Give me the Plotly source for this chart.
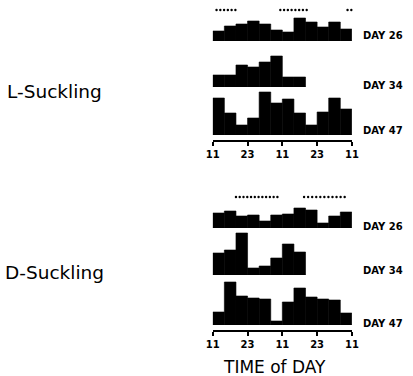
import plotly.graph_objects as go

W, H = 413, 376

# Hourly activity histograms (4-h bins) starting at 11:00
hours_12 = [2, 6, 10, 14, 18, 22, 26, 30, 34, 38, 42, 46]
hours_8 = hours_12[:8]

l_day26 = [10, 15, 17, 20, 17, 11, 9, 23, 19, 14, 19, 12]
l_day34 = [12, 12, 22, 20, 25, 31, 10, 10]
l_day47 = [37, 22, 10, 17, 43, 32, 36, 22, 10, 23, 37, 26]

d_day26 = [15, 17, 12, 13, 7, 13, 14, 20, 18, 5, 12, 16]
d_day34 = [22, 25, 42, 7, 9, 17, 31, 23]
d_day47 = [13, 43, 29, 27, 26, 4, 23, 37, 28, 26, 25, 12]

# dotted markers above the day-26 records (hours after 11:00)
l_dots = [1.3, 2.6, 3.9, 5.2, 6.5, 7.8,
          23.3, 24.6, 25.9, 27.2, 28.5, 29.8, 31.1, 32.4,
          46.5, 47.8]
d_dots = [8.0, 9.3, 10.6, 11.9, 13.2, 14.5, 15.8, 17.1, 18.4, 19.7, 21.0, 22.3,
          31.5, 32.9, 34.3, 35.7, 37.1, 38.5, 39.9, 41.3, 42.7, 44.1, 45.5]
dot_level = 31

tick_vals = [0, 12, 24, 36, 48]
tick_text = ["11", "23", "11", "23", "11"]

groups = ["L-Suckling", "D-Suckling"]
day_labels = ["DAY 26", "DAY 34", "DAY 47"]


def fy(px):
    return 1 - px / H


def fx(px):
    return px / W


# panel layout: (top px, baseline px)
panels = [
    (l_day26, hours_12, 6, 41),
    (l_day34, hours_8, 52, 87),
    (l_day47, hours_12, 90, 135),
    (d_day26, hours_12, 193, 228),
    (d_day34, hours_8, 230, 275),
    (d_day47, hours_12, 280, 325),
]
label_y = [35, 85, 131, 226, 270, 323]

X0, X1 = 213, 357

fig = go.Figure()
layout = dict(
    width=W, height=H, margin=dict(l=0, r=0, t=0, b=0),
    paper_bgcolor="white", plot_bgcolor="rgba(0,0,0,0)",
    showlegend=False,
)

for i, (vals, xs, top, base) in enumerate(panels, start=1):
    xa = "x" if i == 1 else f"x{i}"
    ya = "y" if i == 1 else f"y{i}"
    fig.add_trace(go.Bar(
        x=xs, y=vals, width=4, xaxis=xa, yaxis=ya,
        marker=dict(color="black", line=dict(color="black", width=0.6)),
        hoverinfo="skip",
    ))
    layout["xaxis" if i == 1 else f"xaxis{i}"] = dict(
        domain=[fx(X0), fx(X1)], range=[0, 48], anchor=ya,
        visible=False, fixedrange=True,
    )
    layout["yaxis" if i == 1 else f"yaxis{i}"] = dict(
        domain=[fy(base), fy(top)], range=[0, base - top], anchor=xa,
        visible=False, fixedrange=True,
    )

# dot rows above day 26
fig.add_trace(go.Scatter(
    x=l_dots, y=[dot_level] * len(l_dots), mode="markers", xaxis="x", yaxis="y",
    marker=dict(color="black", size=2.4), hoverinfo="skip", cliponaxis=False,
))
fig.add_trace(go.Scatter(
    x=d_dots, y=[dot_level] * len(d_dots), mode="markers", xaxis="x4", yaxis="y4",
    marker=dict(color="black", size=2.4), hoverinfo="skip", cliponaxis=False,
))

# time axes under each group
for name, axis_px, ref in [("xaxis7", 141, "x3"), ("xaxis8", 331, "x6")]:
    layout[name] = dict(
        domain=[fx(X0), fx(X1)], range=[0, 48], anchor="free",
        position=fy(axis_px), showline=True, linecolor="black", linewidth=2,
        ticks="outside", ticklen=4, tickwidth=2, tickcolor="black",
        tickvals=tick_vals, ticktext=tick_text, showgrid=False, zeroline=False,
        tickfont=dict(family="DejaVu Sans", size=10, color="black", weight="bold"),
        fixedrange=True,
    )
    fig.add_trace(go.Scatter(x=[0, 48], y=[None, None], xaxis=name.replace("axis", ""),
                             yaxis="y3" if ref == "x3" else "y6", hoverinfo="skip"))

layout["annotations"] = []
for ly, txt in zip(label_y, day_labels * 2):
    layout["annotations"].append(dict(
        x=fx(366), y=fy(ly), xref="paper", yref="paper", xanchor="left",
        yanchor="middle", text=txt, showarrow=False,
        font=dict(family="DejaVu Sans", size=10, color="black", weight="bold"),
    ))
for lx, ly, txt in zip([-2, -4], [92, 272], groups):
    layout["annotations"].append(dict(
        x=fx(lx), y=fy(ly), xref="paper", yref="paper", xanchor="left",
        yanchor="middle", text=txt, showarrow=False,
        font=dict(family="DejaVu Sans", size=18.5, color="black"),
    ))
layout["annotations"].append(dict(
    x=fx(277), y=fy(367), xref="paper", yref="paper", xanchor="center",
    yanchor="middle", text="TIME of DAY", showarrow=False,
    font=dict(family="DejaVu Sans", size=17, color="black"),
))

fig.update_layout(**layout)
fig.write_html("out.html", config={"displayModeBar": False})
